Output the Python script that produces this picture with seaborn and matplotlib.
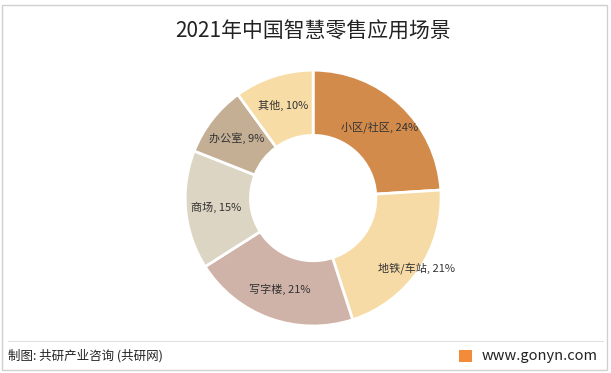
import matplotlib
matplotlib.use("Agg")
import matplotlib.pyplot as plt
import seaborn as sns
import numpy as np
from matplotlib.patches import Rectangle
from matplotlib.lines import Line2D

sns.set_theme(style="white")
plt.rcParams['font.family'] = ['Noto Sans CJK SC', 'DejaVu Sans']

# data
categories = ["小区/社区", "地铁/车站", "写字楼", "商场", "办公室", "其他"]
shares = [24, 21, 21, 15, 9, 10]
colors = ["#D38B4C", "#F7DBA6", "#D0B3A8", "#DDD5C4", "#C4AF95", "#F8DCA6"]

title = "2021年中国智慧零售应用场景"
source = "制图: 共研产业咨询 (共研网)"
site = "www.gonyn.com"

fig = plt.figure(figsize=(6.11, 3.73), dpi=100)

ax = fig.add_axes([0.303, 0.126, 0.419, 0.686])
wedges, _ = ax.pie(shares, colors=colors, startangle=90, counterclock=False,
                   radius=1.0, wedgeprops=dict(width=0.51, edgecolor="white", linewidth=2))
ax.set_xlim(-1, 1)
ax.set_ylim(-1, 1)
ax.set_aspect("equal")
ax.axis("off")

# label radius (excel pushes the 地铁 label outward)
for w, cat, val in zip(wedges, categories, shares):
    ang = np.deg2rad((w.theta1 + w.theta2) / 2)
    r_lab = 0.98 if cat == "地铁/车站" else 0.76
    ax.text(r_lab * np.cos(ang), r_lab * np.sin(ang), f"{cat}, {val}%",
            ha="center", va="center", fontsize=8, color="#333333")

fig.text(0.512, 0.915, title, ha="center", va="center", fontsize=15, color="#222222")

# borders and footer
fig.add_artist(Rectangle((0.004, 0.008), 0.99, 0.978, transform=fig.transFigure,
                         fill=False, edgecolor="#d0d0d0", linewidth=1))
fig.add_artist(Line2D([0.013, 0.987], [0.087, 0.087], transform=fig.transFigure,
                      color="#e0e0e0", linewidth=0.8))
fig.text(0.013, 0.045, source, ha="left", va="center", fontsize=9, color="#222222")
fig.add_artist(Rectangle((0.751, 0.029), 0.022, 0.033, transform=fig.transFigure,
                         facecolor="#F28C3A", edgecolor="none"))
fig.text(0.788, 0.045, site, ha="left", va="center", fontsize=10.5, color="#222222")

fig.savefig("out.png", dpi=100)
